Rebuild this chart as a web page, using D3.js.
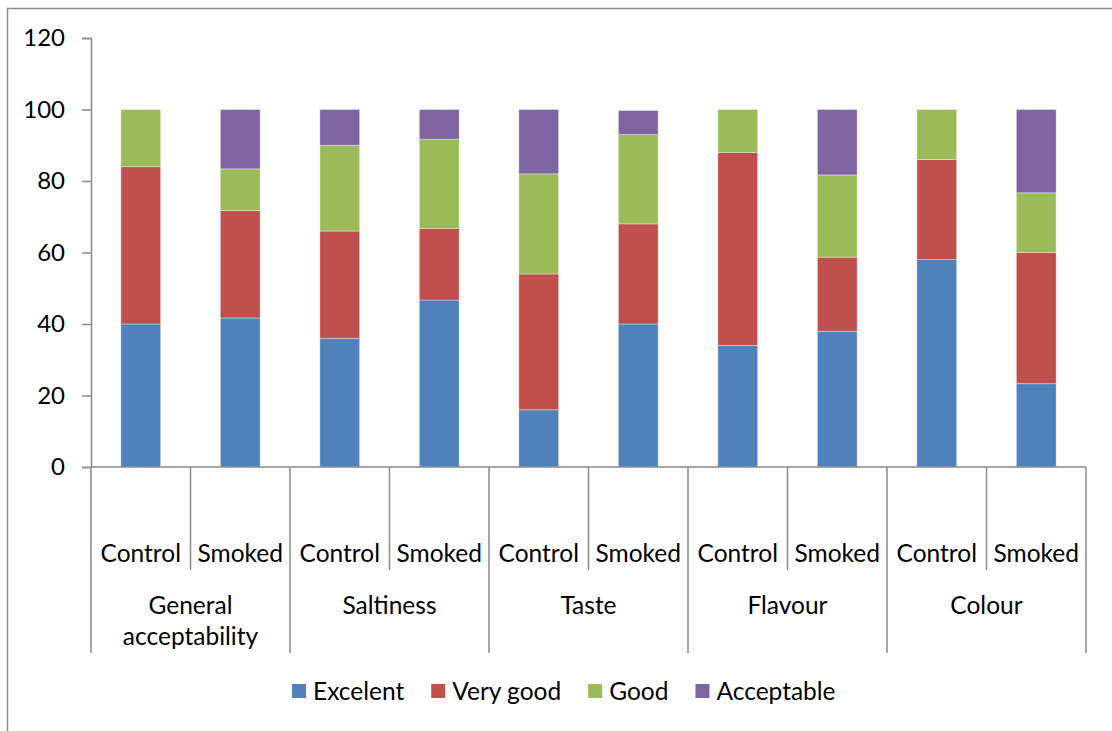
<!DOCTYPE html>
<html>
<head>
<meta charset="utf-8">
<script src="https://cdn.jsdelivr.net/npm/d3@7"></script>
<style>
  body { margin: 0; background: #fff; }
  text { font-family: Lato, "Open Sans", sans-serif; fill: #000; }
</style>
</head>
<body>
<div id="chart"></div>
<script>
// data
const groups = ["General acceptability", "Saltiness", "Taste", "Flavour", "Colour"];
const treatments = ["Control", "Smoked"];
const seriesNames = ["Excelent", "Very good", "Good", "Acceptable"];
const excelent   = [40, 41.7, 36, 46.7, 16, 40, 34, 38, 58, 23.3];
const veryGood   = [44, 30, 30, 20, 38, 28, 54, 20.7, 28, 36.7];
const good       = [16, 11.7, 24, 25, 28, 25, 12, 23, 14, 16.7];
const acceptable = [0, 16.6, 10, 8.3, 18, 6.7, 0, 18.3, 0, 23.3];
const yTicks = [0, 20, 40, 60, 80, 100, 120];
const colors = ["#4F81BD", "#C0504D", "#9BBB59", "#8064A2"];

const W = 1112, H = 731;
const margin = { left: 91, right: 1086, top: 38, bottom: 467 };
const gray = "#898989";
const labelSize = "24.5px";

// one row per bar
let rows = [];
groups.forEach((g, gi) => {
    treatments.forEach((t, ti) => {
        let i = gi * 2 + ti;
        rows.push({
            key: g + "|" + t, group: g, treat: t,
            "Excelent": excelent[i], "Very good": veryGood[i],
            "Good": good[i], "Acceptable": acceptable[i]
        });
    });
});

const svg = d3.select("#chart").append("svg")
    .attr("width", W).attr("height", H);

// chart frame (runs off right and bottom edge like the original)
svg.append("rect")
    .attr("x", 7.5).attr("y", 8.5)
    .attr("width", W + 20).attr("height", H + 20)
    .attr("fill", "none").attr("stroke", gray).attr("stroke-width", 1.5);

const x = d3.scaleBand()
    .domain(rows.map(d => d.key))
    .range([margin.left, margin.right])
    .paddingInner(0.6).paddingOuter(0.3);

const y = d3.scaleLinear().domain([0, 120]).range([margin.bottom, margin.top]);

const stack = d3.stack().keys(seriesNames);
const stacked = stack(rows);

svg.append("g").selectAll("g")
    .data(stacked)
    .join("g")
    .attr("fill", (d, i) => colors[i])
    .selectAll("rect")
    .data(d => d.filter(p => p[1] - p[0] > 0))
    .join("rect")
    .attr("x", d => x(d.data.key))
    .attr("width", x.bandwidth())
    .attr("y", d => y(d[1]))
    .attr("height", d => y(d[0]) - y(d[1]))
    .attr("stroke", "rgba(255,255,255,0.45)")
    .attr("stroke-width", 0.8);

// y axis
const yAxis = d3.axisLeft(y).tickValues(yTicks).tickSize(9).tickPadding(17);
const yg = svg.append("g")
    .attr("transform", "translate(" + margin.left + ",0)")
    .call(yAxis);
yg.select(".domain").attr("stroke", gray).attr("stroke-width", 1.5);
yg.selectAll(".tick line").attr("stroke", gray).attr("stroke-width", 1.5);
yg.selectAll(".tick text")
    .style("font-size", "24px")
    .style("font-family", "Lato, sans-serif")
    .attr("fill", "#000");

// x axis baseline
svg.append("line")
    .attr("x1", margin.left).attr("x2", margin.right)
    .attr("y1", y(0)).attr("y2", y(0))
    .attr("stroke", gray).attr("stroke-width", 1.5);

// category dividers: short between treatments, long between groups
const step = x.step();
d3.range(rows.length + 1).forEach(i => {
    let xp = margin.left + i * step;
    svg.append("line")
        .attr("x1", xp).attr("x2", xp)
        .attr("y1", y(0)).attr("y2", i % 2 === 0 ? 653 : 570)
        .attr("stroke", gray).attr("stroke-width", 1.5);
});

// treatment labels
svg.append("g").selectAll("text")
    .data(rows)
    .join("text")
    .attr("x", d => x(d.key) + x.bandwidth() / 2)
    .attr("y", 553)
    .attr("dy", "0.35em")
    .attr("text-anchor", "middle")
    .style("font-size", labelSize)
    .text(d => d.treat);

// group labels (wrap long names on two lines)
const groupLabels = svg.append("g").selectAll("text")
    .data(groups)
    .join("text")
    .attr("x", (d, i) => margin.left + (i * 2 + 1) * step)
    .attr("y", 605)
    .attr("text-anchor", "middle")
    .style("font-size", labelSize);

groupLabels.each(function(d) {
    let words = d.split(" ");
    let el = d3.select(this);
    words.forEach((w, k) => {
        el.append("tspan")
            .attr("x", el.attr("x"))
            .attr("dy", k === 0 ? "0.35em" : "1.3em")
            .text(w);
    });
});

// legend
let lx = 292;
const legend = svg.append("g");
seriesNames.forEach((s, i) => {
    legend.append("rect")
        .attr("x", lx).attr("y", 684)
        .attr("width", 14).attr("height", 14)
        .attr("fill", colors[i]);
    let t = legend.append("text")
        .attr("x", lx + 21).attr("y", 691)
        .attr("dy", "0.35em")
        .style("font-size", labelSize)
        .text(s);
    lx += 21 + t.node().getComputedTextLength() + 27;
});
</script>
</body>
</html>
